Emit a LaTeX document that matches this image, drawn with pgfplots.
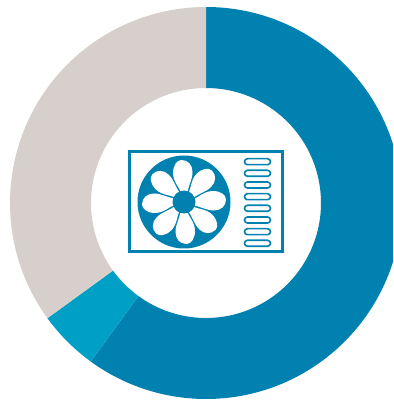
\documentclass[border=0pt]{standalone}
\usepackage{pgfplots}
\usepackage{pgfplotstable}
\pgfplotsset{compat=1.18}
\definecolor{ringdark}{HTML}{0081B0}
\definecolor{ringlight}{HTML}{00A0C6}
\definecolor{ringgrey}{HTML}{D6CFCB}

% Shares of the ring, clockwise from twelve o'clock
\pgfplotstableread{
share
60
5
35
}\ringshares

\pgfplotstablegetelem{0}{share}\of\ringshares \let\shareA\pgfplotsretval
\pgfplotstablegetelem{1}{share}\of\ringshares \let\shareB\pgfplotsretval
\pgfplotstablegetelem{2}{share}\of\ringshares \let\shareC\pgfplotsretval
\pgfmathsetmacro{\angA}{90-3.6*\shareA}
\pgfmathsetmacro{\angB}{\angA-3.6*\shareB}
\pgfmathsetmacro{\angC}{\angB-3.6*\shareC}

\newlength{\px}\setlength{\px}{0.75pt}
% Ring slice between two angles, centred on the current origin
\newcommand{\ringslice}[3]{%
  \fill[#3,shift={(axis cs:206,197)}]
    (#1:196*\px) arc[start angle=#1,end angle=#2,radius=196*\px]
    -- (#2:115*\px) arc[start angle=#2,end angle=#1,radius=115*\px] -- cycle;}

\begin{document}
\begin{tikzpicture}[x=\px,y=\px]
\useasboundingbox (0,0) rectangle (393,400);
\begin{axis}[
  at={(0,0)},anchor=origin,
  width=393*\px,height=400*\px,scale only axis,
  xmin=0,xmax=393,ymin=0,ymax=400,
  hide axis,clip=true]
  \ringslice{90}{\angA}{ringdark}
  \ringslice{\angA}{\angB}{ringlight}
  \ringslice{\angB}{\angC}{ringgrey}

  % Outdoor unit casing
  \draw[ringdark,line width=3*\px] (axis cs:129,148.7) rectangle (axis cs:282.6,248.7);
  % Fan disc, pinwheel blades and hub
  \fill[ringdark] (axis cs:184,198) circle[radius=46.5*\px];
  \pgfplotsinvokeforeach{0,...,7}{
    \fill[white,shift={(axis cs:184,198)},rotate=-45*#1]
      (-3,9) .. controls (-4,14) and (-11,20) .. (-11,29)
      .. controls (-11,36.5) and (-7,42) .. (-2.5,42)
      .. controls (4,42) and (8.5,37) .. (8.5,30)
      .. controls (8.5,22) and (4,16) .. (3.5,9) -- cycle;
  }
  \fill[ringdark] (axis cs:184,198) circle[radius=11.5*\px];
  % Vent slots
  \pgfplotsinvokeforeach{161.7,173.3,185,196.7,208.3,220,231.7,243.3}{
    \draw[ringdark,line width=1.6*\px,rounded corners=3*\px]
      (axis cs:244.5,400-#1-3) rectangle (axis cs:270.5,400-#1+3);
  }
\end{axis}
\end{tikzpicture}
\end{document}
